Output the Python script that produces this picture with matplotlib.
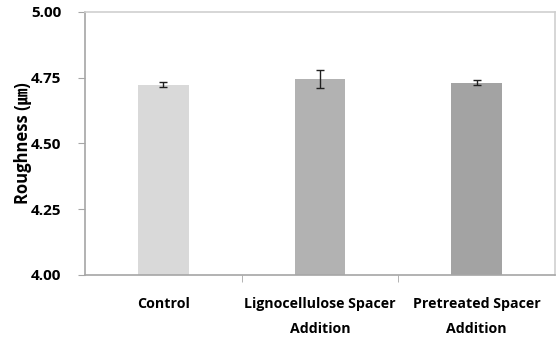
import numpy as np
import matplotlib

matplotlib.use("Agg")
import matplotlib.pyplot as plt

# ---------------------------------------------------------------------------
# Data
# ---------------------------------------------------------------------------
categories = ["Control", "Lignocellulose Spacer\nAddition", "Pretreated Spacer\nAddition"]
roughness = [4.724, 4.744, 4.731]
roughness_err = [0.008, 0.034, 0.009]
bar_colors = ["#d9d9d9", "#b2b2b2", "#a3a3a3"]
y_ticks = [4.00, 4.25, 4.50, 4.75, 5.00]

plt.rcParams["font.family"] = ["Open Sans", "Noto Sans CJK KR", "DejaVu Sans"]
plt.rcParams["font.weight"] = "bold"

fig = plt.figure(figsize=(5.58, 3.37), dpi=100)
ax = fig.add_axes([0.1523, 0.184, 0.8423, 0.7804])

x = np.arange(len(categories))
ax.bar(x, roughness, width=0.325, color=bar_colors, zorder=2)
ax.errorbar(x, roughness, yerr=roughness_err, fmt="none", ecolor="#202020",
            elinewidth=1.0, capsize=3, capthick=1.0, zorder=3)

ax.set_xlim(-0.5, len(categories) - 0.5)
ax.set_ylim(4.0, 5.0)
ax.set_yticks(y_ticks)
ax.set_yticklabels([f"{v:.2f}" for v in y_ticks], fontsize=11, fontweight="bold")

ax.set_xticks(x)
ax.set_xticklabels(categories, fontsize=10.2, fontweight="bold", linespacing=2.0)
ax.tick_params(axis="x", which="major", length=0, pad=16)
ax.set_xticks(np.arange(0.5, len(categories) - 0.5, 1.0), minor=True)
ax.tick_params(axis="x", which="minor", length=5, color="#a6a6a6", direction="out")
ax.tick_params(axis="y", length=5, color="#a6a6a6", direction="out", pad=12)

ax.set_ylabel("Roughness (㎛)", fontsize=12, fontweight="bold", labelpad=-1)

for side in ["left", "bottom"]:
    ax.spines[side].set_color("#a6a6a6")
    ax.spines[side].set_linewidth(1.2)
for side in ["top", "right"]:
    ax.spines[side].set_color("#cfcfcf")
    ax.spines[side].set_linewidth(1.2)

fig.savefig("out.png", dpi=100)
